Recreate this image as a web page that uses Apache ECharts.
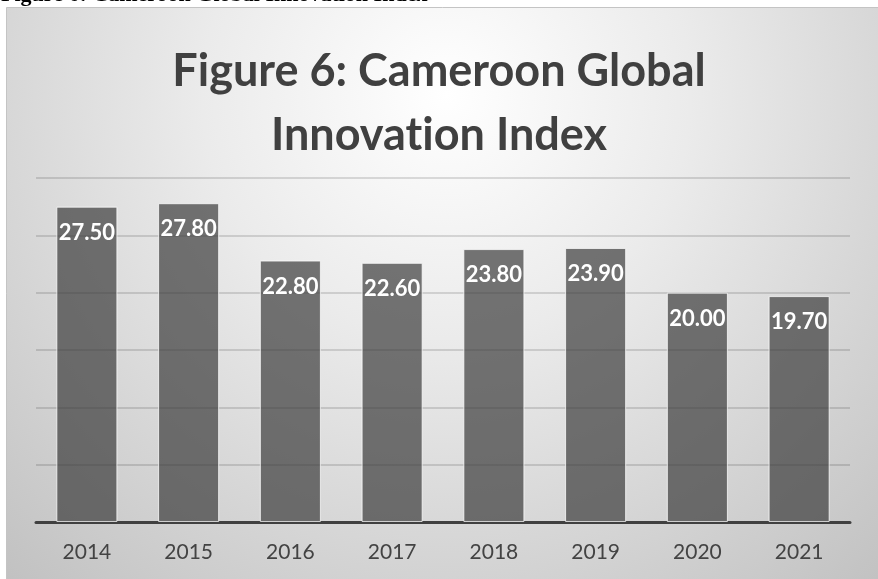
<!DOCTYPE html>
<html>
<head>
<meta charset="utf-8">
<script src="https://cdn.jsdelivr.net/npm/echarts@6/dist/echarts.min.js"></script>
<style>
  html, body { margin: 0; padding: 0; background: #ffffff; }
  #chart { width: 878px; height: 579px; }
</style>
</head>
<body>
<div id="chart"></div>
<script>
// Cameroon Global Innovation Index score, by year
const years = ['2014', '2015', '2016', '2017', '2018', '2019', '2020', '2021'];
const giiScores = [27.50, 27.80, 22.80, 22.60, 23.80, 23.90, 20.00, 19.70];

// value axis range (gridlines every 5 points)
const axisMin = 0;
const axisMax = 30;
const axisStep = 5;

// zero-width non-joiner keeps "ti" from forming a ligature in Lato
const chartTitle = 'Figure 6: Cameroon Global\nInnovat\u200Cion Index';
const captionText = 'Figure 6: Cameroon Global Innovation Index';

const chart = echarts.init(document.getElementById('chart'), null, { renderer: 'canvas' });

chart.setOption({
  animation: false,
  backgroundColor: '#ffffff',
  graphic: [
    {
      // chart panel with soft radial shading
      type: 'rect',
      z: -10,
      shape: { x: 6.5, y: 7.5, width: 880, height: 580 },
      style: {
        fill: {
          type: 'radial', x: 0.5, y: 0.15, r: 1.2,
          colorStops: [
            { offset: 0, color: '#ffffff' },
            { offset: 0.35, color: '#ebebeb' },
            { offset: 1, color: '#bdbdbd' }
          ]
        },
        stroke: '#c4c4c4',
        lineWidth: 1
      }
    },
    {
      // document caption above the panel
      type: 'text',
      z: 10,
      x: 1,
      y: -16,
      style: {
        text: captionText,
        fontFamily: '"Liberation Serif", "Times New Roman", serif',
        fontWeight: 'bold',
        fontSize: 22,
        lineHeight: 22,
        fill: '#000000'
      }
    }
  ],
  title: {
    text: chartTitle,
    left: 'center',
    top: 34,
    textStyle: {
      fontFamily: 'Lato, "Open Sans", sans-serif',
      fontWeight: 'bold',
      fontSize: 45,
      lineHeight: 64,
      color: '#404040'
    }
  },
  grid: { left: 36, right: 28, top: 178, bottom: 57, containLabel: false },
  xAxis: {
    type: 'category',
    data: years,
    axisTick: { show: false },
    axisLine: { show: true, lineStyle: { color: '#404040', width: 3 } },
    axisLabel: {
      margin: 20,
      fontFamily: 'Lato, "Open Sans", sans-serif',
      fontSize: 21,
      color: '#434343'
    }
  },
  yAxis: {
    type: 'value',
    min: axisMin,
    max: axisMax,
    interval: axisStep,
    axisLabel: { show: false },
    axisLine: { show: false },
    axisTick: { show: false },
    splitLine: { show: true, lineStyle: { color: 'rgba(0,0,0,0.13)', width: 2 } }
  },
  series: [
    {
      type: 'bar',
      data: giiScores,
      barWidth: '60%',
      itemStyle: {
        color: 'rgba(60,60,60,0.7)',
        borderColor: 'rgba(255,255,255,0.75)',
        borderWidth: 1
      },
      label: {
        show: true,
        position: 'insideTop',
        distance: 15,
        formatter: p => p.value.toFixed(2),
        fontFamily: 'Lato, "Open Sans", sans-serif',
        fontWeight: 'bold',
        fontSize: 22,
        color: '#ffffff'
      }
    }
  ]
});
</script>
</body>
</html>
